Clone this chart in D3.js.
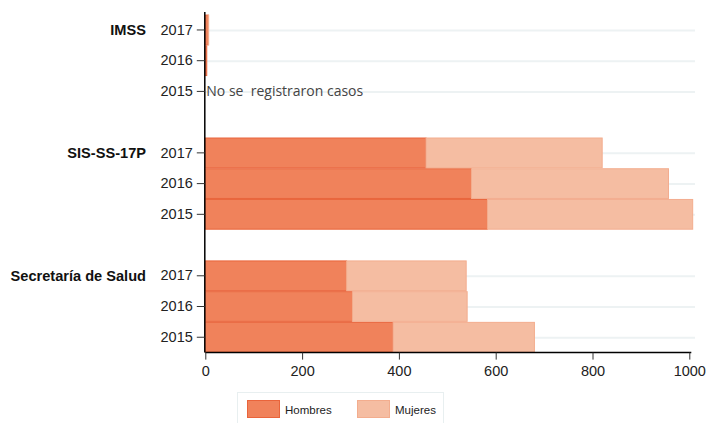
<!DOCTYPE html>
<html>
<head>
<meta charset="utf-8">
<script src="https://cdn.jsdelivr.net/npm/d3@7"></script>
<style>
  body { margin: 0; background: #fff; }
  svg { display: block; font-family: "Liberation Sans", Arial, sans-serif; }
</style>
</head>
<body>
<div id="chart"></div>
<script>
// data
const groups = ['IMSS', 'SIS-SS-17P', 'Secretaría de Salud']
const years = ['2017', '2016', '2015']
const hombres = [
  [6, 3, 0],          // IMSS
  [456, 550, 583],    // SIS-SS-17P
  [292, 304, 388]     // Secretaría de Salud
]
const mujeres = [
  [1, 0, 0],
  [364, 407, 424],
  [247, 237, 292]
]
const xTicks = [0, 200, 400, 600, 800, 1000]
const seriesNames = ['Hombres', 'Mujeres']
const emptyNote = 'No se  registraron casos'

const W = 707, H = 423
const colors = { Hombres: '#f0825b', Mujeres: '#f5bda2' }
const strokes = { Hombres: '#e9643b', Mujeres: '#f3ad8e' }

// one row per year, with a blank row between groups
let rows = []
groups.forEach((g, gi) => {
  years.forEach((y, yi) => {
    rows.push({ key: g + '|' + y, group: g, year: y, first: yi === 0,
      h: hombres[gi][yi], m: mujeres[gi][yi] })
  })
  if (gi < groups.length - 1) rows.push({ key: 'gap' + gi, blank: true })
})

const svg = d3.select('#chart').append('svg')
  .attr('width', W).attr('height', H)

const x = d3.scaleLinear().domain([0, 1000]).range([205.3, 689.3])
const y = d3.scaleBand().domain(rows.map(r => r.key)).range([14.6, 352.6]).padding(0)
const dataRows = rows.filter(r => !r.blank)

// gridlines
svg.append('g').selectAll('line')
  .data(dataRows).enter().append('line')
  .attr('x1', x(0)).attr('x2', 695)
  .attr('y1', d => y(d.key) + y.bandwidth() / 2 + 0.5)
  .attr('y2', d => y(d.key) + y.bandwidth() / 2 + 0.5)
  .attr('stroke', '#edf2f3').attr('stroke-width', 2)

// bars
const bars = svg.append('g')
bars.selectAll('.h')
  .data(dataRows.filter(d => d.h > 0)).enter().append('rect')
  .attr('class', 'h')
  .attr('x', x(0))
  .attr('y', d => y(d.key) + 0.5)
  .attr('width', d => x(d.h) - x(0))
  .attr('height', y.bandwidth() - 1)
  .attr('fill', colors.Hombres).attr('stroke', strokes.Hombres)
bars.selectAll('.m')
  .data(dataRows.filter(d => d.m > 0)).enter().append('rect')
  .attr('class', 'm')
  .attr('x', d => x(d.h))
  .attr('y', d => y(d.key) + 0.5)
  .attr('width', d => x(d.h + d.m) - x(d.h))
  .attr('height', y.bandwidth() - 1)
  .attr('fill', colors.Mujeres).attr('stroke', strokes.Mujeres)

// note for empty row
const emptyRow = dataRows.find(d => d.h + d.m === 0)
svg.append('text')
  .attr('x', x(0) + 1)
  .attr('y', y(emptyRow.key) + y.bandwidth() / 2 + 5)
  .attr('fill', '#444')
  .style('font-family', '"Open Sans", "Noto Sans", sans-serif')
  .style('font-size', '14px')
  .style('white-space', 'pre')
  .text(emptyNote)

// y axis
const yAxis = svg.append('g')
  .attr('transform', `translate(${x(0) - 0.5},0)`)
  .call(d3.axisLeft(y).tickSize(8).tickPadding(4)
    .tickFormat(k => k.startsWith('gap') ? '' : k.split('|')[1]))
yAxis.select('.domain').attr('d', `M0,12V352.6`).attr('stroke', '#000').attr('stroke-width', 1.5)
yAxis.selectAll('.tick').filter(k => k.startsWith('gap')).remove()
yAxis.selectAll('.tick line').attr('stroke', '#333')
yAxis.selectAll('.tick text').attr('fill', '#222')
  .style('font-size', '14.5px').style('font-family', '"Liberation Sans", Arial, sans-serif')

// group labels
svg.append('g').selectAll('text')
  .data(dataRows.filter(d => d.first)).enter().append('text')
  .attr('x', 146)
  .attr('y', d => y(d.key) + y.bandwidth() / 2 + 5)
  .attr('text-anchor', 'end')
  .attr('font-weight', 'bold')
  .style('font-size', '14.6px')
  .attr('fill', '#111')
  .text(d => d.group)

// x axis
const xAxis = svg.append('g')
  .attr('transform', 'translate(0,352.6)')
  .call(d3.axisBottom(x).tickValues(xTicks).tickFormat(d3.format('d')).tickSize(7).tickPadding(6))
xAxis.select('.domain').attr('d', `M${x(0)},0H${x(1000) + 2}`).attr('stroke', '#000').attr('stroke-width', 1.5)
xAxis.selectAll('.tick line').attr('stroke', '#333')
xAxis.selectAll('.tick text').attr('fill', '#222')
  .style('font-size', '14.5px').style('font-family', '"Liberation Sans", Arial, sans-serif')

// legend
const lg = svg.append('g')
lg.append('rect')
  .attr('x', 237.5).attr('y', 392.5).attr('width', 206).attr('height', 40)
  .attr('fill', '#fff').attr('stroke', '#e8eff0')
const items = lg.selectAll('.item')
  .data(seriesNames).enter().append('g')
  .attr('transform', (d, i) => `translate(${247 + i * 110},400)`)
items.append('rect')
  .attr('x', 0.5).attr('y', 0.5).attr('width', 32).attr('height', 17)
  .attr('fill', d => colors[d]).attr('stroke', d => strokes[d])
items.append('text')
  .attr('x', 38).attr('y', 13.5)
  .style('font-size', '11.5px').attr('fill', '#222')
  .text(d => d)
</script>
</body>
</html>
